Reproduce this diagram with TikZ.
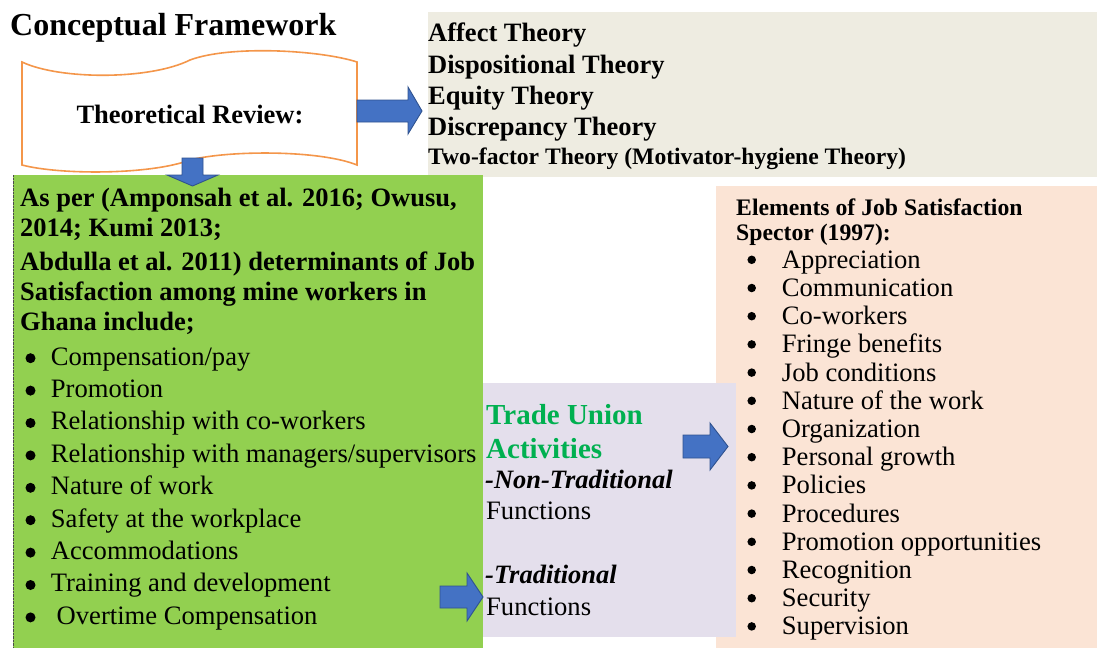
\documentclass[tikz,border=0pt]{standalone}
\usepackage{fontspec}
\setmainfont{Liberation Serif}
\usepackage{tikz}
\usetikzlibrary{positioning}
\definecolor{theorybg}{HTML}{EEECE1}
\definecolor{greenbg}{HTML}{92D050}
\definecolor{unionbg}{HTML}{E4DFEC}
\definecolor{peachbg}{HTML}{FBE4D5}
\definecolor{tapeedge}{HTML}{F4964A}
\definecolor{arrowfill}{HTML}{4472C4}
\definecolor{arrowedge}{HTML}{2F528F}
\definecolor{uniongreen}{HTML}{00B050}

\begin{document}
\begin{tikzpicture}[
		x=1pt,y=-1pt,
		Tape/.style={draw=tapeedge,fill=white,line width=1.6pt},
		BlockArrow/.style={draw=arrowedge,fill=arrowfill,line width=0.9pt,line join=miter},
		Txt/.style={anchor=base west,inner sep=0pt,text height=18pt,text depth=5pt,font=\fontsize{26.6}{30}\selectfont},
		BoldTxt/.style={Txt,font=\fontsize{26.5}{30}\selectfont\bfseries},
		Dot/.style={circle,fill=black,inner sep=0pt,minimum size=#1},
		every node/.style={scale=1}
		]
		\useasboundingbox (0,0) rectangle (1097,648);
		
		% panels
		\fill[theorybg] (428,12) rectangle (1097,177);
		\fill[peachbg] (716,186) rectangle (1097,648);
		\fill[greenbg] (13,175) rectangle (483,648);
		\draw[black!70,densely dotted,thin] (13,175) -- (13,648);
		\fill[unionbg] (483,383) rectangle (736,637);
		
		% punched tape
		\draw[Tape] (22,62) .. controls (60,80) and (150,80) .. (190,60)
		.. controls (230,45) and (320,50) .. (357,62) -- (357,165)
		.. controls (320,150) and (230,150) .. (190,160)
		.. controls (150,175) and (60,175) .. (22,165) -- cycle;
		
		%\draw[red] (0,0) grid (1097,648);
		
		% block arrows
		\draw[BlockArrow] (357,100) -- (408,100) -- (408,87) -- (422,111)
		-- (408,134) -- (408,122) -- (357,122) -- cycle;
		\draw[BlockArrow] (182,158) -- (203,158) -- (203,175) -- (218,175)
		-- (192.5,186) -- (167,175) -- (182,175) -- cycle;
		\draw[BlockArrow] (683,435) -- (710,435) -- (710,423) -- (728,446.5)
		-- (710,470) -- (710,458) -- (683,458) -- cycle;
		\draw[BlockArrow] (440,586) -- (467,586) -- (467,573) -- (483,597)
		-- (467,621) -- (467,608) -- (440,608) -- cycle;
		
		\node[BoldTxt,font=\fontsize{32}{36}\selectfont\bfseries] (title) at (10,35) {Conceptual Framework};
		\node[BoldTxt,anchor=base] (review) at (190,123) {Theoretical Review:};
		
		% theories
		\node[BoldTxt] (affect) at (428,41.7) {Affect Theory};
		\node[BoldTxt] (disp) at (428,73) {Dispositional Theory};
		\node[BoldTxt] (equity) at (428,104) {Equity Theory};
		\node[BoldTxt] (discr) at (428,135) {Discrepancy Theory};
		\node[BoldTxt,font=\fontsize{23.6}{27}\selectfont\bfseries] (twofac) at (428,164) {Two-factor Theory (Motivator-hygiene Theory)};
		
		% determinants
		\node[BoldTxt] (asper) at (20,206.7) {As per (Amponsah et al. 2016; Owusu,};
		\node[BoldTxt] (kumi) at (20,236.7) {2014; Kumi 2013;};
		\node[BoldTxt] (abdulla) at (20,270) {Abdulla et al. 2011) determinants of Job};
		\node[BoldTxt] (satis) at (20,300) {Satisfaction among mine workers in};
		\node[BoldTxt] (ghana) at (20,330) {Ghana include;};
		\node[Txt] (pay) at (50.7,365) {Compensation/pay};
		\node[Txt] (promo) at (50.7,397.4) {Promotion};
		\node[Txt] (cowork) at (50.7,429.8) {Relationship with co-workers};
		\node[Txt] (manag) at (50.7,462.2) {Relationship with managers/supervisors};
		\node[Txt] (nature) at (50.7,494.6) {Nature of work};
		\node[Txt] (safety) at (50.7,527) {Safety at the workplace};
		\node[Txt] (accom) at (50.7,559.4) {Accommodations};
		\node[Txt] (train) at (50.7,591.8) {Training and development};
		\node[Txt] (overtime) at (56.5,624.2) {Overtime Compensation};
		\foreach \y [count=\i] in {365,397.4,429.8,462.2,494.6,527,559.4,591.8,624.2}
		\node[Dot=10pt] (gdot\i) at (30.5,\y-6.8) {};
		
		% trade union
		\node[BoldTxt,font=\fontsize{29}{33}\selectfont\bfseries,text=uniongreen] (trade) at (486,424) {Trade Union};
		\node[BoldTxt,font=\fontsize{29}{33}\selectfont\bfseries,text=uniongreen] (activ) at (486,458.3) {Activities};
		\node[BoldTxt,font=\fontsize{26.5}{30}\selectfont\bfseries\itshape] (nontrad) at (485,488.3) {-Non-Traditional};
		\node[Txt] (funcA) at (486,519) {Functions};
		\node[BoldTxt,font=\fontsize{26.5}{30}\selectfont\bfseries\itshape] (trad) at (485,583.3) {-Traditional};
		\node[Txt] (funcB) at (486,615) {Functions};
		
		% elements
		\node[BoldTxt,font=\fontsize{23.7}{27}\selectfont\bfseries] (elem) at (736,215) {Elements of Job Satisfaction};
		\node[BoldTxt,font=\fontsize{23.7}{27}\selectfont\bfseries] (spector) at (736,240.7) {Spector (1997):};
		\node[Txt] (e1) at (781.7,268.3) {Appreciation};
		\node[Txt] (e2) at (781.7,296.5) {Communication};
		\node[Txt] (e3) at (781.7,324.7) {Co-workers};
		\node[Txt] (e4) at (781.7,352.9) {Fringe benefits};
		\node[Txt] (e5) at (781.7,381.1) {Job conditions};
		\node[Txt] (e6) at (781.7,409.3) {Nature of the work};
		\node[Txt] (e7) at (781.7,437.5) {Organization};
		\node[Txt] (e8) at (781.7,465.7) {Personal growth};
		\node[Txt] (e9) at (781.7,493.9) {Policies};
		\node[Txt] (e10) at (781.7,522.1) {Procedures};
		\node[Txt] (e11) at (781.7,550.3) {Promotion opportunities};
		\node[Txt] (e12) at (781.7,578.5) {Recognition};
		\node[Txt] (e13) at (781.7,606.7) {Security};
		\node[Txt] (e14) at (781.7,634.9) {Supervision};
		\foreach \i in {1,...,14}
		\node[Dot=8.5pt] (pdot\i) at (751.7,240.1+28.2*\i-8.5) {};
		
		\end{tikzpicture}
\end{document}
